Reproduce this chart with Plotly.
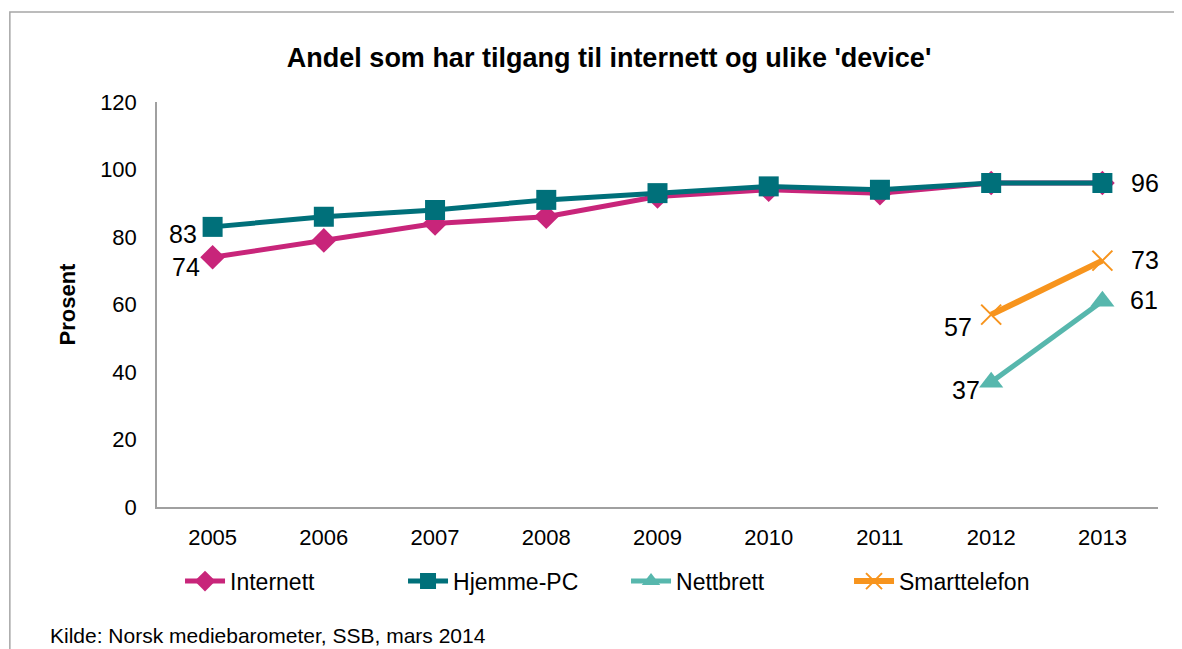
import plotly.graph_objects as go

years = ["2005", "2006", "2007", "2008", "2009", "2010", "2011", "2012", "2013"]
internett = [74, 79, 84, 86, 92, 94, 93, 96, 96]
hjemme_pc = [83, 86, 88, 91, 93, 95, 94, 96, 96]
nettbrett_years = ["2012", "2013"]
nettbrett = [37, 61]
smart_years = ["2012", "2013"]
smarttelefon = [57, 73]

# data labels: (year, value) taken from the series above; shifts are styling
label_points = [
    (years[0], internett[0], -27, -10),
    (years[0], hjemme_pc[0], -30, -7),
    (years[-1], hjemme_pc[-1], 43, 0),
    (smart_years[0], smarttelefon[0], -33, -12),
    (smart_years[1], smarttelefon[1], 43, 1),
    (nettbrett_years[0], nettbrett[0], -25, -8),
    (nettbrett_years[1], nettbrett[1], 42, 1),
]

FONT = "Liberation Sans, Arial, sans-serif"
C_INT = "#C8257A"
C_PC = "#00707A"
C_NETT = "#57B7AD"
C_SMART = "#F7941D"

fig = go.Figure()

fig.add_trace(go.Scatter(
    x=years, y=internett, name="Internett", mode="lines+markers",
    line=dict(color=C_INT, width=5),
    marker=dict(symbol="diamond", size=19, color=C_INT),
))
fig.add_trace(go.Scatter(
    x=years, y=hjemme_pc, name="Hjemme-PC", mode="lines+markers",
    line=dict(color=C_PC, width=5),
    marker=dict(symbol="square", size=20, color=C_PC),
))
fig.add_trace(go.Scatter(
    x=nettbrett_years, y=nettbrett, name="Nettbrett", mode="lines+markers",
    line=dict(color=C_NETT, width=5),
    marker=dict(symbol="triangle-up", size=21, color=C_NETT),
))
fig.add_trace(go.Scatter(
    x=smart_years, y=smarttelefon, name="Smarttelefon", mode="lines+markers",
    line=dict(color=C_SMART, width=6),
    marker=dict(symbol="x-thin", size=20, color=C_SMART,
                line=dict(color=C_SMART, width=2)),
))

annotations = []
for (xv, yv, dx, dy) in label_points:
    annotations.append(dict(
        x=years.index(xv), y=yv, xref="x", yref="y", text=str(yv),
        showarrow=False, xshift=dx, yshift=dy,
        xanchor="center", yanchor="middle",
        font=dict(size=25, family=FONT, color="#000000")))

annotations.append(dict(
    text="Kilde: Norsk mediebarometer, SSB, mars 2014",
    xref="paper", yref="paper", x=-0.109, y=-0.317,
    xanchor="left", yanchor="middle", showarrow=False,
    font=dict(size=21, family=FONT, color="#000000")))

fig.update_layout(
    width=1174, height=641,
    margin=dict(l=149, r=24, t=94, b=142),
    paper_bgcolor="white", plot_bgcolor="white",
    font=dict(family=FONT, size=22, color="#000000"),
    title=dict(text="<b>Andel som har tilgang til internett og ulike 'device'</b>",
               x=0.512, xanchor="center", y=0.923, yanchor="middle",
               font=dict(size=27, family=FONT, color="#000000")),
    xaxis=dict(type="category", categoryorder="array", categoryarray=years,
               range=[-0.5, 8.5], showgrid=False, showline=True,
               linecolor="#A0A0A0", linewidth=1.5, ticks="", zeroline=False,
               ticklabelstandoff=10,
               tickfont=dict(size=22, family=FONT)),
    yaxis=dict(range=[0, 120], tick0=0, dtick=20, showgrid=False,
               showline=True, linecolor="#A0A0A0", linewidth=1.5,
               ticks="", zeroline=False, ticklabelstandoff=14,
               tickfont=dict(size=22, family=FONT),
               title=dict(text="<b>Prosent</b>", standoff=18,
                          font=dict(size=22, family=FONT))),
    showlegend=True,
    legend=dict(orientation="h", x=0.023, xanchor="left", y=-0.13,
                yanchor="top", font=dict(size=23, family=FONT),
                itemwidth=40, entrywidth=168, traceorder="normal"),
    shapes=[dict(type="rect", xref="paper", yref="paper",
                 x0=-0.147, x1=1.2, y0=-0.6, y1=1.2222,
                 line=dict(color="#A6A6A6", width=1.5), fillcolor="rgba(0,0,0,0)",
                 layer="below")],
    annotations=annotations,
)

fig.write_html("out.html")
